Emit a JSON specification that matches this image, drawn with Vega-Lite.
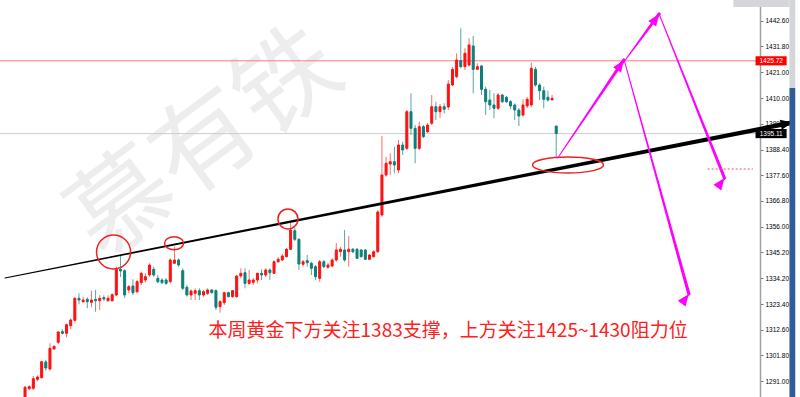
{
"$schema": "https://vega.github.io/schema/vega-lite/v6.json",
"width": 760, "height": 397,
"autosize": {"type": "none"},
"padding": {"left": 0, "top": 0, "right": 40, "bottom": 0},
"background": "#ffffff",
"config": {"view": {"stroke": null}},
"resolve": {"scale": {"size": "independent", "angle": "independent", "color": "independent"}, "axis": {"y": "independent", "x": "independent"}},
"datasets": {
"candles": [
{"i":0,"o":1283.87,"h":1288.92,"l":1283.45,"c":1288.37},
{"i":1,"o":1287.78,"h":1289.21,"l":1287.24,"c":1288.62},
{"i":2,"o":1287.95,"h":1293.13,"l":1287.24,"c":1291.99},
{"i":3,"o":1291.74,"h":1293.42,"l":1290.90,"c":1292.71},
{"i":4,"o":1292.41,"h":1299.44,"l":1291.99,"c":1299.14},
{"i":5,"o":1299.02,"h":1299.86,"l":1295.36,"c":1296.49},
{"i":6,"o":1296.07,"h":1306.88,"l":1295.36,"c":1304.78},
{"i":7,"o":1304.49,"h":1306.04,"l":1304.06,"c":1305.62},
{"i":8,"o":1307.31,"h":1312.06,"l":1306.47,"c":1311.64},
{"i":9,"o":1311.77,"h":1312.77,"l":1310.67,"c":1311.09},
{"i":10,"o":1311.09,"h":1315.13,"l":1309.41,"c":1314.71},
{"i":11,"o":1314.29,"h":1317.40,"l":1312.77,"c":1316.69},
{"i":12,"o":1316.56,"h":1326.23,"l":1315.55,"c":1325.81},
{"i":13,"o":1325.81,"h":1327.92,"l":1323.29,"c":1325.10},
{"i":14,"o":1324.38,"h":1326.49,"l":1323.96,"c":1325.10},
{"i":15,"o":1325.39,"h":1326.23,"l":1321.61,"c":1324.38},
{"i":16,"o":1324.13,"h":1329.01,"l":1322.03,"c":1325.10},
{"i":17,"o":1325.39,"h":1329.31,"l":1320.18,"c":1324.80},
{"i":18,"o":1324.80,"h":1327.20,"l":1320.89,"c":1325.81},
{"i":19,"o":1326.07,"h":1327.08,"l":1324.68,"c":1325.52},
{"i":20,"o":1324.80,"h":1327.08,"l":1324.38,"c":1325.81},
{"i":21,"o":1324.80,"h":1327.92,"l":1324.38,"c":1327.33},
{"i":22,"o":1327.20,"h":1339.11,"l":1326.78,"c":1338.01},
{"i":23,"o":1338.01,"h":1343.61,"l":1334.78,"c":1337.30},
{"i":24,"o":1337.43,"h":1338.14,"l":1325.94,"c":1327.20},
{"i":25,"o":1329.31,"h":1331.41,"l":1327.92,"c":1330.70},
{"i":26,"o":1330.99,"h":1333.81,"l":1327.20,"c":1328.17},
{"i":27,"o":1328.59,"h":1333.51,"l":1327.92,"c":1332.80},
{"i":28,"o":1332.38,"h":1337.01,"l":1331.41,"c":1336.33},
{"i":29,"o":1333.51,"h":1336.33,"l":1332.38,"c":1334.90},
{"i":30,"o":1335.62,"h":1340.54,"l":1334.90,"c":1339.82},
{"i":31,"o":1338.01,"h":1339.11,"l":1334.90,"c":1335.62},
{"i":32,"o":1334.23,"h":1335.62,"l":1332.12,"c":1332.80},
{"i":33,"o":1333.51,"h":1334.23,"l":1331.83,"c":1332.38},
{"i":34,"o":1333.51,"h":1334.36,"l":1331.41,"c":1332.12},
{"i":35,"o":1332.80,"h":1342.64,"l":1332.12,"c":1341.93},
{"i":36,"o":1340.54,"h":1347.52,"l":1340.46,"c":1341.93},
{"i":37,"o":1341.93,"h":1342.64,"l":1339.11,"c":1339.82},
{"i":38,"o":1337.43,"h":1338.44,"l":1329.31,"c":1330.02},
{"i":39,"o":1330.44,"h":1331.41,"l":1326.49,"c":1327.20},
{"i":40,"o":1327.20,"h":1329.60,"l":1325.10,"c":1328.89},
{"i":41,"o":1327.92,"h":1330.02,"l":1325.10,"c":1329.01},
{"i":42,"o":1329.01,"h":1330.02,"l":1325.10,"c":1327.20},
{"i":43,"o":1327.20,"h":1329.31,"l":1326.49,"c":1328.59},
{"i":44,"o":1327.92,"h":1330.02,"l":1327.20,"c":1329.31},
{"i":45,"o":1329.31,"h":1329.73,"l":1327.83,"c":1328.17},
{"i":46,"o":1329.01,"h":1329.60,"l":1320.89,"c":1322.03},
{"i":47,"o":1322.28,"h":1325.10,"l":1319.76,"c":1324.38},
{"i":48,"o":1323.96,"h":1328.59,"l":1322.99,"c":1328.17},
{"i":49,"o":1328.17,"h":1328.59,"l":1326.23,"c":1326.49},
{"i":50,"o":1326.49,"h":1329.31,"l":1326.07,"c":1329.01},
{"i":51,"o":1326.49,"h":1335.62,"l":1326.07,"c":1335.20},
{"i":52,"o":1335.20,"h":1338.44,"l":1334.23,"c":1336.33},
{"i":53,"o":1336.58,"h":1338.44,"l":1330.02,"c":1332.12},
{"i":54,"o":1332.12,"h":1337.72,"l":1331.41,"c":1333.51},
{"i":55,"o":1332.55,"h":1334.36,"l":1331.41,"c":1333.51},
{"i":56,"o":1333.51,"h":1336.58,"l":1332.12,"c":1336.33},
{"i":57,"o":1336.33,"h":1338.01,"l":1333.51,"c":1335.62},
{"i":58,"o":1335.62,"h":1338.44,"l":1334.78,"c":1337.72},
{"i":59,"o":1337.72,"h":1338.44,"l":1333.51,"c":1336.58},
{"i":60,"o":1336.33,"h":1341.72,"l":1336.04,"c":1341.21},
{"i":61,"o":1341.21,"h":1343.19,"l":1340.67,"c":1342.22},
{"i":62,"o":1341.93,"h":1344.45,"l":1341.51,"c":1343.61},
{"i":63,"o":1343.32,"h":1346.98,"l":1342.98,"c":1346.43},
{"i":64,"o":1346.43,"h":1358.04,"l":1346.13,"c":1354.55},
{"i":65,"o":1354.25,"h":1355.52,"l":1349.92,"c":1350.63},
{"i":66,"o":1350.63,"h":1351.06,"l":1337.72,"c":1340.25},
{"i":67,"o":1340.12,"h":1341.93,"l":1339.11,"c":1341.21},
{"i":68,"o":1341.63,"h":1344.03,"l":1339.11,"c":1340.79},
{"i":69,"o":1340.54,"h":1341.21,"l":1335.62,"c":1338.44},
{"i":70,"o":1339.11,"h":1339.82,"l":1333.51,"c":1334.90},
{"i":71,"o":1334.23,"h":1341.93,"l":1332.80,"c":1341.21},
{"i":72,"o":1341.21,"h":1341.93,"l":1338.56,"c":1339.11},
{"i":73,"o":1338.86,"h":1340.67,"l":1338.35,"c":1339.82},
{"i":74,"o":1339.40,"h":1342.64,"l":1338.86,"c":1341.93},
{"i":75,"o":1341.93,"h":1349.08,"l":1341.21,"c":1346.13},
{"i":76,"o":1345.42,"h":1347.52,"l":1343.32,"c":1346.43},
{"i":77,"o":1346.13,"h":1354.55,"l":1341.21,"c":1341.93},
{"i":78,"o":1345.42,"h":1352.02,"l":1339.11,"c":1346.43},
{"i":79,"o":1346.43,"h":1346.98,"l":1344.87,"c":1345.42},
{"i":80,"o":1346.43,"h":1346.98,"l":1342.35,"c":1342.64},
{"i":81,"o":1346.13,"h":1346.56,"l":1342.98,"c":1343.32},
{"i":82,"o":1346.13,"h":1346.56,"l":1341.93,"c":1342.22},
{"i":83,"o":1342.22,"h":1344.45,"l":1341.93,"c":1344.03},
{"i":84,"o":1343.32,"h":1345.93,"l":1342.98,"c":1345.42},
{"i":85,"o":1345.42,"h":1362.96,"l":1344.87,"c":1362.12},
{"i":86,"o":1360.86,"h":1394.09,"l":1360.14,"c":1377.69},
{"i":87,"o":1377.69,"h":1385.39,"l":1376.97,"c":1382.61},
{"i":88,"o":1382.31,"h":1386.82,"l":1377.69,"c":1383.28},
{"i":89,"o":1383.28,"h":1389.59,"l":1378.40,"c":1381.89},
{"i":90,"o":1379.79,"h":1392.41,"l":1378.40,"c":1390.31},
{"i":91,"o":1390.31,"h":1391.70,"l":1386.10,"c":1388.21},
{"i":92,"o":1388.92,"h":1405.03,"l":1388.21,"c":1404.32},
{"i":93,"o":1404.32,"h":1412.06,"l":1394.52,"c":1397.33},
{"i":94,"o":1397.33,"h":1398.72,"l":1382.61,"c":1388.92},
{"i":95,"o":1388.92,"h":1400.11,"l":1388.21,"c":1398.01},
{"i":96,"o":1398.01,"h":1398.72,"l":1393.25,"c":1393.80},
{"i":97,"o":1395.90,"h":1399.56,"l":1395.36,"c":1398.72},
{"i":98,"o":1399.44,"h":1411.34,"l":1398.72,"c":1406.42},
{"i":99,"o":1406.42,"h":1408.52,"l":1400.83,"c":1404.32},
{"i":100,"o":1404.32,"h":1407.56,"l":1401.67,"c":1406.42},
{"i":101,"o":1406.42,"h":1407.85,"l":1403.64,"c":1405.33},
{"i":102,"o":1406.29,"h":1417.65,"l":1405.03,"c":1415.97},
{"i":103,"o":1415.55,"h":1423.12,"l":1415.13,"c":1422.15},
{"i":104,"o":1419.04,"h":1428.89,"l":1418.37,"c":1426.07},
{"i":105,"o":1425.77,"h":1439.40,"l":1422.58,"c":1423.25},
{"i":106,"o":1423.25,"h":1430.99,"l":1421.86,"c":1428.89},
{"i":107,"o":1423.96,"h":1435.20,"l":1423.25,"c":1432.38},
{"i":108,"o":1431.96,"h":1436.16,"l":1412.06,"c":1422.15},
{"i":109,"o":1422.15,"h":1424.68,"l":1421.86,"c":1423.25},
{"i":110,"o":1423.54,"h":1423.96,"l":1411.34,"c":1413.74},
{"i":111,"o":1413.74,"h":1414.84,"l":1402.93,"c":1408.52},
{"i":112,"o":1409.24,"h":1413.45,"l":1405.03,"c":1407.14},
{"i":113,"o":1407.14,"h":1412.06,"l":1401.54,"c":1405.75},
{"i":114,"o":1405.75,"h":1412.18,"l":1405.03,"c":1411.34},
{"i":115,"o":1411.34,"h":1411.76,"l":1407.98,"c":1408.52},
{"i":116,"o":1410.38,"h":1410.92,"l":1407.98,"c":1408.52},
{"i":117,"o":1408.52,"h":1409.24,"l":1405.45,"c":1406.72},
{"i":118,"o":1407.14,"h":1407.85,"l":1400.83,"c":1405.03},
{"i":119,"o":1405.03,"h":1405.75,"l":1398.30,"c":1402.51},
{"i":120,"o":1402.93,"h":1409.53,"l":1402.21,"c":1407.14},
{"i":121,"o":1406.72,"h":1410.50,"l":1405.87,"c":1409.53},
{"i":122,"o":1407.14,"h":1424.93,"l":1406.17,"c":1422.58},
{"i":123,"o":1422.15,"h":1423.25,"l":1414.84,"c":1415.55},
{"i":124,"o":1415.55,"h":1416.27,"l":1409.24,"c":1413.15},
{"i":125,"o":1413.15,"h":1414.84,"l":1405.75,"c":1409.53},
{"i":126,"o":1410.38,"h":1413.15,"l":1408.52,"c":1409.24},
{"i":127,"o":1409.24,"h":1411.34,"l":1409.24,"c":1409.95},
{"i":128,"o":1398.30,"h":1398.30,"l":1384.71,"c":1395.11}
]
},
"layer": [
{
"data": {"values": [{"i": 43.69, "p": 1390.3, "t": "慕有铁"}]},
"mark": {"type": "text", "font": "Noto Sans CJK SC", "fontSize": 102, "angle": -36.5, "color": "#ededed", "align": "center", "baseline": "middle"},
"encoding": {
"x": {"field": "i", "type": "quantitative", "scale": {"domain": [-4.83, 175.9], "nice": false, "zero": false}, "axis": null},
"y": {"field": "p", "type": "quantitative", "scale": {"domain": [1284.29, 1451.31], "nice": false, "zero": false},
"axis": {"orient": "right", "title": null, "grid": false, "values": [1291.0, 1301.8, 1312.6, 1323.4, 1334.2, 1345.2, 1356.0, 1366.8, 1377.6, 1388.4, 1399.2, 1410.0, 1421.0, 1431.8, 1442.6], "format": ".2f", "labelFont": "Liberation Sans", "labelFontSize": 6.5, "labelColor": "#000000", "tickSize": 3, "tickColor": "#777777", "domainColor": "#a0a0a0", "domainWidth": 1.5, "labelPadding": 2, "labelBaseline": "middle", "labelOverlap": false, "labelFlush": false, "zindex": 0}},
"text": {"field": "t"}
}
},
{
"data": {"values": [{"p": 1425.72}]},
"mark": {"type": "rule", "color": "#ff7a7a", "strokeWidth": 1},
"encoding": {
"y": {"field": "p", "type": "quantitative", "scale": {"domain": [1284.29, 1451.31], "nice": false, "zero": false}, "axis": null}
}
},
{
"data": {"values": [{"p": 1395.11}]},
"mark": {"type": "rule", "color": "#cccccc", "strokeWidth": 1},
"encoding": {
"y": {"field": "p", "type": "quantitative", "scale": {"domain": [1284.29, 1451.31], "nice": false, "zero": false}, "axis": null}
}
},
{
"data": {"name": "candles"},
"mark": {"type": "rule", "strokeWidth": 1},
"encoding": {
"x": {"field": "i", "type": "quantitative", "scale": {"domain": [-4.83, 175.9], "nice": false, "zero": false}, "axis": null},
"y": {"field": "l", "type": "quantitative", "scale": {"domain": [1284.29, 1451.31], "nice": false, "zero": false}, "axis": null},
"y2": {"field": "h"},
"color": {"condition": {"test": "datum.c >= datum.o", "value": "#ff6b6b"}, "value": "#56a7a2"}
}
},
{
"data": {"name": "candles"},
"mark": {"type": "bar", "size": 2, "strokeWidth": 1, "orient": "vertical"},
"encoding": {
"x": {"field": "i", "type": "quantitative", "scale": {"domain": [-4.83, 175.9], "nice": false, "zero": false}, "axis": null},
"y": {"field": "o", "type": "quantitative", "scale": {"domain": [1284.29, 1451.31], "nice": false, "zero": false}, "axis": null},
"y2": {"field": "c"},
"color": {"condition": {"test": "datum.c >= datum.o", "value": "#ff1010"}, "value": "#0c7f79"},
"stroke": {"condition": {"test": "datum.c >= datum.o", "value": "#ff1010"}, "value": "#0c7f79"}
}
},
{
"data": {"values": [{"i": -4.83, "p": 1334.36}, {"i": 184.95, "p": 1399.77}]},
"mark": {"type": "trail", "color": "#000000"},
"encoding": {
"x": {"field": "i", "type": "quantitative", "scale": {"domain": [-4.83, 175.9], "nice": false, "zero": false}, "axis": null},
"y": {"field": "p", "type": "quantitative", "scale": {"domain": [1284.29, 1451.31], "nice": false, "zero": false}, "axis": null},
"size": {"field": "i", "type": "quantitative", "scale": {"domain": [-4.83, 184.95], "range": [1.2, 4.5]}, "legend": null}
}
},
{
"data": {"values": [{"i": 184.95, "p": 1399.77}]},
"mark": {"type": "point", "shape": "M0,0L0.42,1L-0.42,1Z", "size": 576, "angle": 78.97, "filled": true, "color": "#000000", "opacity": 1},
"encoding": {
"x": {"field": "i", "type": "quantitative", "scale": {"domain": [-4.83, 175.9], "nice": false, "zero": false}, "axis": null},
"y": {"field": "p", "type": "quantitative", "scale": {"domain": [1284.29, 1451.31], "nice": false, "zero": false}, "axis": null}
}
},
{
"data": {"values": [{"i": 21.33, "p": 1345.3}, {"i": 63.35, "p": 1359.2}]},
"mark": {"type": "point", "shape": "circle", "filled": false, "color": "#ee2020", "strokeWidth": 1.5, "opacity": 1},
"encoding": {
"x": {"field": "i", "type": "quantitative", "scale": {"domain": [-4.83, 175.9], "nice": false, "zero": false}, "axis": null},
"y": {"field": "p", "type": "quantitative", "scale": {"domain": [1284.29, 1451.31], "nice": false, "zero": false}, "axis": null},
"size": {"field": "i", "type": "quantitative", "scale": {"type": "linear", "domain": [21.33, 63.35], "range": [1156, 400]}, "legend": null}
}
},
{
"data": {"values": [{"i": 35.91, "p": 1348.95}]},
"mark": {"type": "point", "shape": "M-1,0C-1,-0.375,-0.552,-0.68,0,-0.68C0.552,-0.68,1,-0.375,1,0C1,0.375,0.552,0.68,0,0.68C-0.552,0.68,-1,0.375,-1,0Z", "size": 361, "filled": false, "color": "#ee2020", "strokeWidth": 1.5, "opacity": 1},
"encoding": {
"x": {"field": "i", "type": "quantitative", "scale": {"domain": [-4.83, 175.9], "nice": false, "zero": false}, "axis": null},
"y": {"field": "p", "type": "quantitative", "scale": {"domain": [1284.29, 1451.31], "nice": false, "zero": false}, "axis": null}
}
},
{
"data": {"values": [{"i": 130.84, "p": 1381.9}]},
"mark": {"type": "point", "shape": "M-1,0C-1,-0.124,-0.552,-0.225,0,-0.225C0.552,-0.225,1,-0.124,1,0C1,0.124,0.552,0.225,0,0.225C-0.552,0.225,-1,0.124,-1,0Z", "size": 5041, "filled": false, "color": "#ee2020", "strokeWidth": 1.5, "opacity": 1},
"encoding": {
"x": {"field": "i", "type": "quantitative", "scale": {"domain": [-4.83, 175.9], "nice": false, "zero": false}, "axis": null},
"y": {"field": "p", "type": "quantitative", "scale": {"domain": [1284.29, 1451.31], "nice": false, "zero": false}, "axis": null}
}
},
{
"data": {"values": [
{"a": "A1", "s": 0, "i": 128.35, "p": 1384.84}, {"a": "A1", "s": 1, "i": 144.3, "p": 1426.07},
{"a": "A2", "s": 0, "i": 144.3, "p": 1425.23}, {"a": "A2", "s": 1, "i": 152.8, "p": 1445.42},
{"a": "A3", "s": 0, "i": 152.8, "p": 1445.42}, {"a": "A3", "s": 1, "i": 168.54, "p": 1376.43},
{"a": "A4", "s": 0, "i": 144.5, "p": 1425.23}, {"a": "A4", "s": 1, "i": 159.97, "p": 1327.62}
]},
"mark": {"type": "trail", "color": "#ff00ff"},
"encoding": {
"x": {"field": "i", "type": "quantitative", "scale": {"domain": [-4.83, 175.9], "nice": false, "zero": false}, "axis": null},
"y": {"field": "p", "type": "quantitative", "scale": {"domain": [1284.29, 1451.31], "nice": false, "zero": false}, "axis": null},
"detail": {"field": "a"},
"order": {"field": "s"},
"size": {"field": "s", "type": "quantitative", "scale": {"domain": [0, 1], "range": [1, 3.2]}, "legend": null}
}
},
{
"data": {"values": [
{"a": "A1", "i": 144.3, "p": 1426.07}, {"a": "A2", "i": 152.8, "p": 1445.42},
{"a": "A3", "i": 168.54, "p": 1376.43}, {"a": "A4", "i": 159.97, "p": 1327.62}
]},
"mark": {"type": "point", "shape": "M0,0L0.4,1L-0.4,1Z", "size": 576, "filled": true, "color": "#ff00ff", "opacity": 1},
"encoding": {
"x": {"field": "i", "type": "quantitative", "scale": {"domain": [-4.83, 175.9], "nice": false, "zero": false}, "axis": null},
"y": {"field": "p", "type": "quantitative", "scale": {"domain": [1284.29, 1451.31], "nice": false, "zero": false}, "axis": null},
"angle": {"field": "a", "type": "nominal", "scale": {"domain": ["A1", "A2", "A3", "A4"], "range": [34.4, 36.9, 158.1, 164.3]}, "legend": null}
}
},
{
"data": {"values": [{"i": 164.5, "i2": 175.4, "p": 1380.2}]},
"mark": {"type": "rule", "color": "#ff5050", "strokeWidth": 1, "strokeDash": [2, 2]},
"encoding": {
"x": {"field": "i", "type": "quantitative", "scale": {"domain": [-4.83, 175.9], "nice": false, "zero": false}, "axis": null},
"x2": {"field": "i2"},
"y": {"field": "p", "type": "quantitative", "scale": {"domain": [1284.29, 1451.31], "nice": false, "zero": false}, "axis": null}
}
},
{
"data": {"values": [{"i": 101.95, "p": 1312.0, "t": "本周黄金下方关注1383支撑，上方关注1425~1430阻力位"}]},
"mark": {"type": "text", "font": "Noto Sans CJK SC", "fontSize": 19, "color": "#ff2020", "align": "center", "baseline": "middle"},
"encoding": {
"x": {"field": "i", "type": "quantitative", "scale": {"domain": [-4.83, 175.9], "nice": false, "zero": false}, "axis": null},
"y": {"field": "p", "type": "quantitative", "scale": {"domain": [1284.29, 1451.31], "nice": false, "zero": false}, "axis": null},
"text": {"field": "t"}
}
},
{
"data": {"values": [{"k": "lvl", "i": 176.03, "i2": 183.52, "p": 1423.8, "p2": 1427.64}, {"k": "bid", "i": 176.03, "i2": 183.52, "p": 1393.19, "p2": 1397.03}]},
"mark": {"type": "rect"},
"encoding": {
"x": {"field": "i", "type": "quantitative", "scale": {"domain": [-4.83, 175.9], "nice": false, "zero": false}, "axis": null},
"x2": {"field": "i2"},
"y": {"field": "p", "type": "quantitative", "scale": {"domain": [1284.29, 1451.31], "nice": false, "zero": false}, "axis": null},
"y2": {"field": "p2"},
"color": {"field": "k", "type": "nominal", "scale": {"domain": ["lvl", "bid"], "range": ["#ff0000", "#000000"]}, "legend": null}
}
},
{
"data": {"values": [{"i": 179.8, "p": 1425.72, "t": "1425.72"}, {"i": 179.8, "p": 1395.11, "t": "1395.11"}]},
"mark": {"type": "text", "font": "Liberation Sans", "fontSize": 6.5, "color": "#ffffff", "align": "center", "baseline": "middle"},
"encoding": {
"x": {"field": "i", "type": "quantitative", "scale": {"domain": [-4.83, 175.9], "nice": false, "zero": false}, "axis": null},
"y": {"field": "p", "type": "quantitative", "scale": {"domain": [1284.29, 1451.31], "nice": false, "zero": false}, "axis": null},
"text": {"field": "t"}
}
},
{
"data": {"values": [{"i": 184.2, "i2": 185.6, "p": 1284.29, "p2": 1414.29}]},
"mark": {"type": "rect", "color": "#2f5d9b"},
"encoding": {
"x": {"field": "i", "type": "quantitative", "scale": {"domain": [-4.83, 175.9], "nice": false, "zero": false}, "axis": null},
"x2": {"field": "i2"},
"y": {"field": "p", "type": "quantitative", "scale": {"domain": [1284.29, 1451.31], "nice": false, "zero": false}, "axis": null},
"y2": {"field": "p2"}
}
},
{
"data": {"values": [{"i": 184.2, "i2": 185.6, "p": 1414.29, "p2": 1451.31}, {"i": 170.7, "i2": 184.2, "p": 1448.36, "p2": 1451.31}]},
"mark": {"type": "rect", "color": "#d4d6da"},
"encoding": {
"x": {"field": "i", "type": "quantitative", "scale": {"domain": [-4.83, 175.9], "nice": false, "zero": false}, "axis": null},
"x2": {"field": "i2"},
"y": {"field": "p", "type": "quantitative", "scale": {"domain": [1284.29, 1451.31], "nice": false, "zero": false}, "axis": null},
"y2": {"field": "p2"}
}
}
]
}
